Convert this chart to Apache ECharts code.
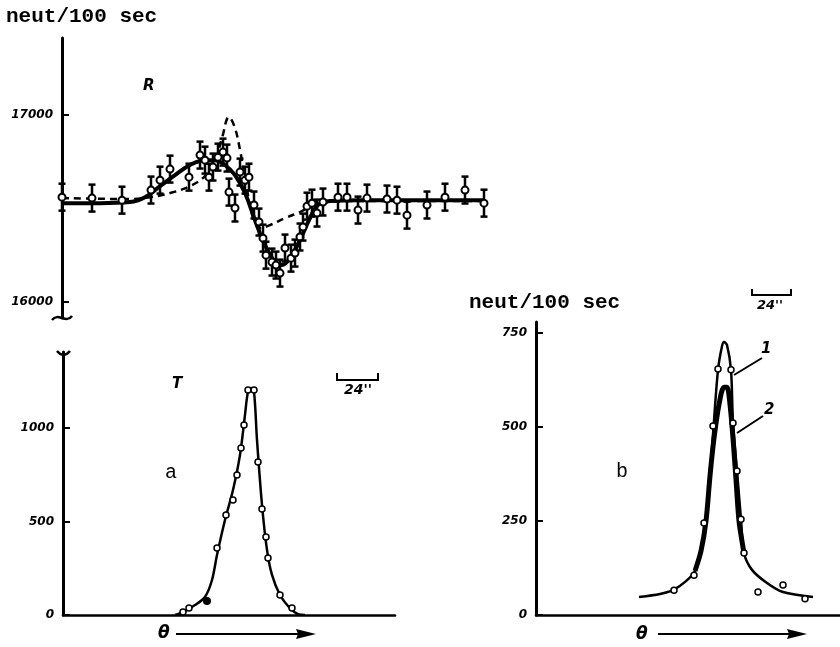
<!DOCTYPE html>
<html>
<head>
<meta charset="utf-8">
<style>
  html, body { margin: 0; padding: 0; background: #fff; }
  #chart { width: 840px; height: 647px; }
</style>
<script src="https://cdn.jsdelivr.net/npm/echarts@6/dist/echarts.min.js"></script>
</head>
<body>
<div id="chart"></div>
<script>
// ---------- DATA (x in arbitrary angle units) ----------
// Panel R : measured points [x, counts, error]
const rPointsX = [0, 30, 60, 89, 98, 108, 127, 138, 143, 147, 151, 156, 161, 165, 167, 173, 178, 183, 187,
  192, 197, 201, 204, 210, 214, 218, 223, 229, 233, 238, 241, 245, 250, 255, 261, 276, 285, 296, 305, 325, 335, 345, 365, 383, 403, 422];
const rPointsY = [16561, 16556, 16545, 16599, 16652, 16711, 16668, 16786, 16759, 16668, 16722, 16775, 16802, 16770, 16588, 16503, 16695, 16652, 16668,
  16519, 16428, 16342, 16251, 16214, 16198, 16155, 16289, 16235, 16262, 16348, 16401, 16513, 16529, 16476, 16535, 16561, 16561, 16492, 16556, 16551, 16545, 16465, 16519, 16561, 16599, 16529];
const rError = 72;
// Panel R : solid fitted curve
const rSolidX = [0, 38, 68, 83, 98, 113, 128, 143, 153, 163, 173, 183, 193, 203, 213, 220, 228, 238, 248, 256, 268, 298, 358, 423];
const rSolidY = [16529, 16529, 16535, 16561, 16620, 16679, 16733, 16759, 16759, 16733, 16679, 16583, 16438, 16305, 16214, 16198, 16235, 16332, 16449, 16519, 16540, 16545, 16545, 16545];
// Panel R : dashed curve
const rDashX = [0, 68, 88, 108, 128, 143, 153, 160, 167, 173, 178, 182, 187, 192, 198, 208, 223, 238, 250, 268, 298, 423];
const rDashY = [16556, 16551, 16561, 16583, 16620, 16674, 16759, 16877, 16989, 16930, 16813, 16695, 16545, 16438, 16396, 16412, 16449, 16481, 16513, 16535, 16540, 16540];
const rTicks = [16000, 17000];

// Panel a (T)
const aPointsX = [120, 126, 154, 163, 170, 174, 178, 181, 185, 191, 195, 199, 203, 205, 217, 229];
const aPointsY = [16, 37, 358, 535, 615, 749, 893, 1016, 1203, 1203, 818, 567, 417, 305, 107, 37];
const aFilledX = [144];
const aFilledY = [75];
const aCurveX = [112, 120, 132, 142, 149, 154, 162, 170, 177, 182, 185, 188, 191, 194, 199, 204, 209, 217, 227, 235, 242];
const aCurveY = [0, 16, 53, 96, 187, 321, 508, 668, 856, 1070, 1193, 1214, 1193, 936, 588, 348, 214, 107, 37, 5, 0];
const aTicks = [0, 500, 1000];

// Panel b
const bPointsX = [138, 158, 168, 177, 182, 195, 197, 201, 205, 208, 222, 247, 269];
const bPointsY = [66, 106, 245, 503, 654, 652, 511, 383, 255, 165, 61, 80, 43];
const bCurve1X = [103, 124, 137, 150, 159, 165, 170, 174, 177, 182, 186, 188, 191, 195, 197, 201, 205, 208, 216, 231, 247, 277];
const bCurve1Y = [48, 56, 66, 90, 117, 170, 250, 370, 480, 652, 715, 726, 718, 652, 511, 383, 255, 165, 120, 85, 61, 48];
const bCurve2X = [159, 165, 170, 174, 178, 183, 188, 191, 194, 197, 200, 203, 207, 208];
const bCurve2Y = [117, 170, 250, 370, 470, 560, 606, 606, 560, 470, 360, 250, 180, 165];
const bTicks = [0, 250, 500, 750];

// ---------- helpers ----------
const zip = (xs, ys) => xs.map((x, i) => [x, ys[i]]);
const tickFont = { fontFamily: 'DejaVu Sans', fontWeight: 'bold', fontStyle: 'italic', fontSize: 12, color: '#000' };

function yAxisCfg(gridIndex, min, max, ticks) {
  return {
    type: 'value', gridIndex, min, max,
    splitLine: { show: false },
    axisLine: { show: true, lineStyle: { color: '#000', width: 3 } },
    axisTick: { show: true, inside: true, length: 7, lineStyle: { color: '#000', width: 2 }, customValues: ticks },
    axisLabel: Object.assign({ margin: 9, customValues: ticks, formatter: v => String(v) }, tickFont)
  };
}
function xAxisCfg(gridIndex, min, max, showLine) {
  return {
    type: 'value', gridIndex, min, max,
    splitLine: { show: false },
    axisLine: { show: showLine, onZero: false, lineStyle: { color: '#000', width: 2.5 } },
    axisTick: { show: false }, axisLabel: { show: false }
  };
}

const chart = echarts.init(document.getElementById('chart'), null, { renderer: 'canvas' });

const option = {
  animation: false,
  backgroundColor: '#fff',
  grid: [
    { left: 62, top: 38, width: 428, height: 280 },
    { left: 63, top: 352, width: 332, height: 263 },
    { left: 536, top: 322, width: 304, height: 293 }
  ],
  xAxis: [xAxisCfg(0, 0, 428, false), xAxisCfg(1, 0, 332, true), xAxisCfg(2, 0, 304, true)],
  yAxis: [yAxisCfg(0, 15915, 17412, rTicks), yAxisCfg(1, 0, 1406, aTicks), yAxisCfg(2, 0, 779.3, bTicks)],
  series: [
    { type: 'line', xAxisIndex: 0, yAxisIndex: 0, data: zip(rDashX, rDashY), smooth: 0.4, showSymbol: false,
      lineStyle: { color: '#000', width: 2.5, type: [7, 5] }, z: 2 },
    { type: 'line', xAxisIndex: 0, yAxisIndex: 0, data: zip(rSolidX, rSolidY), smooth: 0.4, showSymbol: false,
      lineStyle: { color: '#000', width: 4 }, z: 3 },
    { type: 'custom', xAxisIndex: 0, yAxisIndex: 0, z: 5,
      data: rPointsX.map((x, i) => [x, rPointsY[i], rError]),
      renderItem: function (params, api) {
        const x = api.value(0), y = api.value(1), e = api.value(2);
        const c = api.coord([x, y]);
        const hi = api.coord([x, y + e]);
        const lo = api.coord([x, y - e]);
        const st = { stroke: '#000', lineWidth: 2.5 };
        return { type: 'group', children: [
          { type: 'line', shape: { x1: c[0], y1: hi[1], x2: c[0], y2: lo[1] }, style: st },
          { type: 'line', shape: { x1: c[0] - 3.5, y1: hi[1], x2: c[0] + 3.5, y2: hi[1] }, style: st },
          { type: 'line', shape: { x1: c[0] - 3.5, y1: lo[1], x2: c[0] + 3.5, y2: lo[1] }, style: st },
          { type: 'circle', shape: { cx: c[0], cy: c[1], r: 3.5 }, style: { fill: '#fff', stroke: '#000', lineWidth: 2 } }
        ] };
      }
    },
    { type: 'line', xAxisIndex: 1, yAxisIndex: 1, data: zip(aCurveX, aCurveY), smooth: 0.3, showSymbol: false,
      lineStyle: { color: '#000', width: 2.5 }, z: 2 },
    { type: 'scatter', xAxisIndex: 1, yAxisIndex: 1, data: zip(aPointsX, aPointsY), symbol: 'circle', symbolSize: 6,
      itemStyle: { color: '#fff', borderColor: '#000', borderWidth: 1.5, opacity: 1 }, z: 4 },
    { type: 'scatter', xAxisIndex: 1, yAxisIndex: 1, data: zip(aFilledX, aFilledY), symbol: 'circle', symbolSize: 8,
      itemStyle: { color: '#000', opacity: 1 }, z: 4 },
    { type: 'line', xAxisIndex: 2, yAxisIndex: 2, data: zip(bCurve1X, bCurve1Y), smooth: 0.3, showSymbol: false,
      lineStyle: { color: '#000', width: 2.5 }, z: 2 },
    { type: 'line', xAxisIndex: 2, yAxisIndex: 2, data: zip(bCurve2X, bCurve2Y), smooth: 0.3, showSymbol: false,
      lineStyle: { color: '#000', width: 5 }, z: 2 },
    { type: 'scatter', xAxisIndex: 2, yAxisIndex: 2, data: zip(bPointsX, bPointsY), symbol: 'circle', symbolSize: 6,
      itemStyle: { color: '#fff', borderColor: '#000', borderWidth: 1.5, opacity: 1 }, z: 4 }
  ],
  graphic: [
    { type: 'text', left: 6, top: 6, style: { text: 'neut/100 sec', font: 'bold 21px "Liberation Mono"', fill: '#000' } },
    { type: 'text', left: 469, top: 292, style: { text: 'neut/100 sec', font: 'bold 21px "Liberation Mono"', fill: '#000' } },
    { type: 'text', left: 143, top: 79, style: { text: 'R', font: 'italic bold 15px "DejaVu Sans"', fill: '#000' } },
    { type: 'text', left: 172, top: 377, style: { text: 'T', font: 'italic bold 15px "DejaVu Sans"', fill: '#000' } },
    { type: 'text', left: 165, top: 463, style: { text: 'a', font: '20px "Liberation Mono"', fill: '#000' } },
    { type: 'text', left: 616, top: 462, style: { text: 'b', font: '20px "Liberation Mono"', fill: '#000' } },
    // theta arrows
    { type: 'text', left: 158, top: 625, style: { text: 'θ', font: 'italic bold 17px "DejaVu Sans"', fill: '#000' } },
    { type: 'line', shape: { x1: 176, y1: 634, x2: 308, y2: 634 }, style: { stroke: '#000', lineWidth: 2 } },
    { type: 'polygon', shape: { points: [[316, 634], [296, 629], [298, 634], [296, 639]] }, style: { fill: '#000' } },
    { type: 'text', left: 636, top: 626, style: { text: 'θ', font: 'italic bold 17px "DejaVu Sans"', fill: '#000' } },
    { type: 'line', shape: { x1: 658, y1: 634, x2: 798, y2: 634 }, style: { stroke: '#000', lineWidth: 2 } },
    { type: 'polygon', shape: { points: [[807, 634], [787, 629], [789, 634], [787, 639]] }, style: { fill: '#000' } },
    // scale bars
    { type: 'polyline', shape: { points: [[337, 373], [337, 380], [378, 380], [378, 373]] }, style: { stroke: '#000', lineWidth: 2, fill: null } },
    { type: 'text', left: 344, top: 383, style: { text: "24''", font: 'italic bold 14px "DejaVu Sans"', fill: '#000' } },
    { type: 'polyline', shape: { points: [[752, 289], [752, 295], [791, 295], [791, 289]] }, style: { stroke: '#000', lineWidth: 2, fill: null } },
    { type: 'text', left: 757, top: 299, style: { text: "24''", font: 'italic bold 13px "DejaVu Sans"', fill: '#000' } },
    // curve labels
    { type: 'line', shape: { x1: 734, y1: 375, x2: 762, y2: 358 }, style: { stroke: '#000', lineWidth: 2 } },
    { type: 'text', left: 761, top: 342, style: { text: '1', font: 'italic bold 15px "DejaVu Sans"', fill: '#000' } },
    { type: 'line', shape: { x1: 737, y1: 433, x2: 763, y2: 416 }, style: { stroke: '#000', lineWidth: 2 } },
    { type: 'text', left: 764, top: 403, style: { text: '2', font: 'italic bold 15px "DejaVu Sans"', fill: '#000' } },
    // axis break marks
    { type: 'bezierCurve', shape: { x1: 52, y1: 320, x2: 72, y2: 316, cpx1: 58, cpy1: 312, cpx2: 66, cpy2: 324 }, style: { stroke: '#000', lineWidth: 2.5, fill: null } },
    { type: 'bezierCurve', shape: { x1: 57, y1: 351, x2: 70, y2: 351, cpx1: 61, cpy1: 356, cpx2: 66, cpy2: 356 }, style: { stroke: '#000', lineWidth: 2.5, fill: null } }
  ]
};
chart.setOption(option);
</script>
</body>
</html>
